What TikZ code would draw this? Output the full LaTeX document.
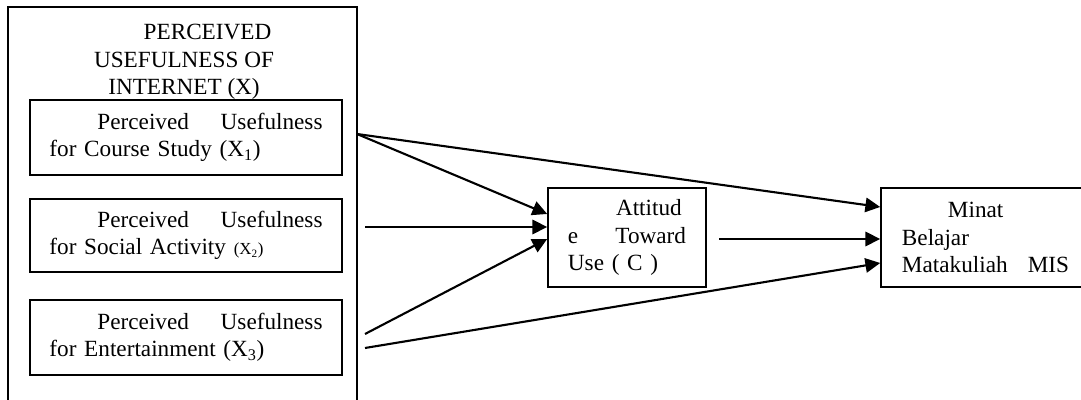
\documentclass[tikz,border=0pt]{standalone}
\usepackage{fontspec}
\setmainfont{Liberation Serif}
\usetikzlibrary{arrows.meta,calc}

\begin{document}
\begin{tikzpicture}
[ x=0.025cm, y=0.025cm,
every node/.style={font=\fontsize{16.5pt}{19.6pt}\selectfont},
frame/.style={rectangle, draw=black, line width=0.9pt,
minimum width=8.725cm, minimum height=10.075cm},
block/.style ={rectangle, draw=black, line width=1.1pt, inner sep=0pt,
minimum width=7.8cm, minimum height=1.875cm,
text width=6.825cm, align=left},
conn/.style={-{Triangle[length=0.37cm,width=0.36cm]}, line width=1.5pt},
]
\clip (0,0) rectangle (1081,400);

% left group
\node (internet) [frame] at (182.5,191.5) {};
\node (title) [align=center] at (184,338)
  {\hspace*{1.175cm}PERCEIVED\\USEFULNESS OF\\INTERNET (X)};
\node (useful1) [block] at (186,262.5)
  {\hspace*{1.2cm}Perceived\hfill Usefulness\\for Course Study (X\textsubscript{1})};
\node (useful2) [block, minimum height=1.825cm] at (186,164.5)
  {\hspace*{1.2cm}Perceived\hfill Usefulness\\for Social Activity {\fontsize{12pt}{13pt}\selectfont(X\textsubscript{2})}};
\node (useful3) [block] at (186,62.5)
  {\hspace*{1.2cm}Perceived\hfill Usefulness\\for Entertainment (X\textsubscript{3})};

% middle and right
\node (attitude) [block, minimum width=3.95cm, minimum height=2.475cm,
  text width=2.95cm] at (627,162.5) {\hspace*{1.2cm}Attitud\\e\hfill Toward\\Use ( C )};
\node (minat) [block, minimum width=5.225cm, minimum height=2.475cm,
  text width=4.175cm] at (985.5,162.5) {\hspace*{1.15cm}Minat\\Belajar\\Matakuliah\hfill MIS};

\coordinate (out1) at (357,266);
\coordinate (out2) at (365,173);
\coordinate (out3a) at (365,66);
\coordinate (out3b) at (365,52);
\coordinate (outC) at (719,161);

\draw[conn] (out1) -- ($(attitude.west)+(0,23.5)$);
\draw[conn] (out1) -- ($(minat.west)+(0,30.5)$);
\draw[conn] (out2) -- (attitude.west |- out2);
\draw[conn] (out3a) -- ($(attitude.west)+(0,-1.5)$);
\draw[conn] (out3b) -- ($(minat.west)+(0,-25.5)$);
\draw[conn] (outC) -- (minat.west |- outC);
\end{tikzpicture}
\end{document}
